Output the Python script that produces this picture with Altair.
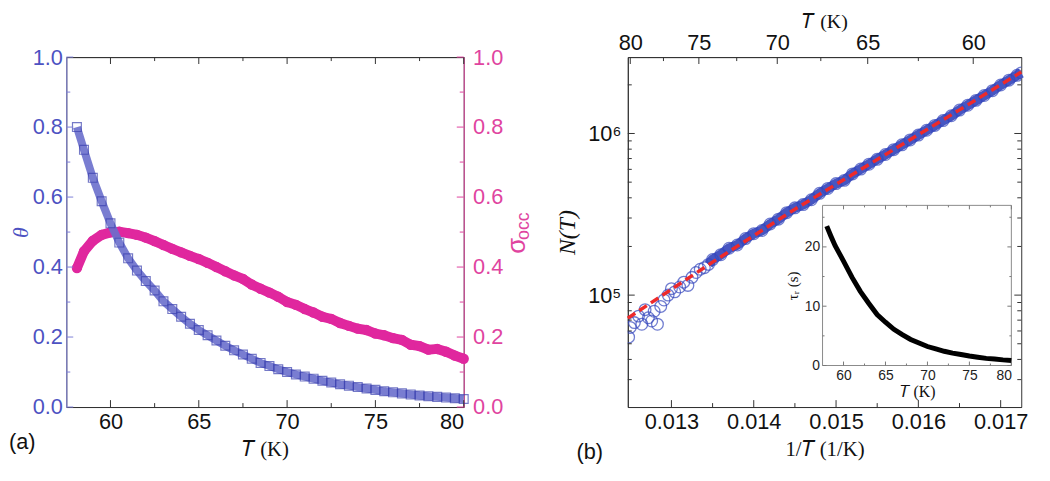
import altair as alt
import pandas as pd

# ---------------- Panel (a) data ----------------
T_a = [58.1, 58.5, 59.0, 59.5, 60.0, 60.5, 61.0, 61.5, 62.0, 62.5, 63.0, 63.5, 64.0, 64.5,
       65.0, 65.5, 66.0, 66.5, 67.0, 67.5, 68.0, 68.5, 69.0, 69.5, 70.0, 70.5, 71.0, 71.5,
       72.0, 72.5, 73.0, 73.5, 74.0, 74.5, 75.0, 75.5, 76.0, 76.5, 77.0, 77.5, 78.0, 78.5,
       79.0, 79.5, 80.0]
theta = [0.800, 0.735, 0.655, 0.588, 0.525, 0.470, 0.425, 0.390, 0.360, 0.333, 0.302, 0.280,
         0.258, 0.238, 0.220, 0.205, 0.190, 0.175, 0.162, 0.150, 0.138, 0.126, 0.117, 0.108,
         0.100, 0.093, 0.087, 0.081, 0.075, 0.070, 0.065, 0.061, 0.057, 0.053, 0.049, 0.045,
         0.042, 0.039, 0.036, 0.033, 0.031, 0.029, 0.027, 0.025, 0.023]
sigma_occ = [0.397, 0.445, 0.475, 0.492, 0.499, 0.501, 0.497, 0.492, 0.484, 0.474, 0.463, 0.452,
             0.442, 0.432, 0.423, 0.412, 0.400, 0.388, 0.376, 0.366, 0.350, 0.338, 0.327, 0.315,
             0.300, 0.292, 0.280, 0.270, 0.258, 0.252, 0.240, 0.232, 0.224, 0.220, 0.210, 0.205,
             0.197, 0.192, 0.178, 0.174, 0.164, 0.166, 0.158, 0.147, 0.138]

# ---------------- Panel (b) data ----------------
invT_b = [0.01248, 0.01250, 0.01255, 0.01260, 0.01264, 0.01268, 0.01272, 0.01276, 0.01279,
          0.01283, 0.01287, 0.01291, 0.01296, 0.01300, 0.01304, 0.01310, 0.01315, 0.01320,
          0.01325, 0.01330, 0.01335, 0.01340, 0.01345,
          0.0135, 0.0136, 0.0137, 0.0138, 0.0139, 0.0140, 0.0141, 0.0142, 0.0143, 0.0144,
          0.0145, 0.0146, 0.0147, 0.0148, 0.0149, 0.0150, 0.0151, 0.0152, 0.0153, 0.0154,
          0.0155, 0.0156, 0.0157, 0.0158, 0.0159, 0.0160, 0.0161, 0.0162, 0.0163, 0.0164,
          0.0165, 0.0166, 0.0167, 0.0168, 0.0169, 0.0170, 0.0171, 0.0172, 0.01725]
log10_N_b = [4.74, 4.80, 4.83, 4.87, 4.82, 4.91, 4.86, 4.84, 4.90,
             4.82, 4.93, 4.97, 5.00, 5.04, 5.02, 5.05, 5.08, 5.06,
             5.11, 5.14, 5.16, 5.17, 5.19,
             5.22, 5.25, 5.29, 5.31, 5.35, 5.38, 5.40, 5.44, 5.47, 5.51,
             5.54, 5.56, 5.59, 5.63, 5.66, 5.69, 5.71, 5.75, 5.78, 5.81,
             5.84, 5.87, 5.90, 5.93, 5.96, 5.99, 6.02, 6.05, 6.08, 6.11,
             6.145, 6.175, 6.205, 6.235, 6.265, 6.30, 6.33, 6.36, 6.375]
fit_invT = [0.01247, 0.0135, 0.0145, 0.0155, 0.0165, 0.01725]
fit_N = [7.2e4, 1.6e5, 3.4e5, 6.9e5, 1.4e6, 2.4e6]

# inset
T_in = [58.0, 58.5, 59.0, 59.5, 60.0, 61.0, 62.0, 63.0, 64.0, 65.0, 66.0, 67.0, 68.0, 69.0,
        70.0, 71.0, 72.0, 73.0, 74.0, 75.0, 76.0, 77.0, 78.0, 79.0, 80.0]
tau_r = [23.5, 21.8, 20.2, 18.9, 17.6, 14.9, 12.5, 10.5, 8.6, 7.3, 6.1, 5.2, 4.4, 3.8,
         3.2, 2.8, 2.4, 2.1, 1.85, 1.6, 1.4, 1.2, 1.1, 0.95, 0.85]

# ticks
a_x_major = [60, 65, 70, 75, 80]
a_x_minor = [62.5, 67.5, 72.5, 77.5]
a_y_major = [0.0, 0.2, 0.4, 0.6, 0.8, 1.0]
a_y_minor = [0.1, 0.3, 0.5, 0.7, 0.9]
b_x_major = [0.013, 0.014, 0.015, 0.016, 0.017]
b_x_minor = [0.0135, 0.0145, 0.0155, 0.0165]
b_top_major_T = [80, 75, 70, 65, 60]
b_top_minor_T = [77.5, 72.5, 67.5, 62.5]
b_y_major = [1e5, 1e6]
b_y_minor = [3e4, 4e4, 5e4, 6e4, 7e4, 8e4, 9e4, 2e5, 3e5, 4e5, 5e5, 6e5, 7e5, 8e5, 9e5, 2e6]
in_x_major = [60, 65, 70, 75, 80]
in_x_minor = [62.5, 67.5, 72.5, 77.5]
in_y_major = [0, 10, 20]
in_y_minor = [5, 15, 25]

SANS = "Liberation Sans"
SERIF = "Liberation Serif"
BLUE_LBL = "#4d52c2"
BLUE_DOM = "#7d80d8"
BLUE_MK = "#3c42b0"
BLUE_BAND = "#6a6fcc"
MAG = "#e0279e"
MAG_LBL = "#e0449f"
DARK = "#333333"


def vticks(values, scale, y0, y1, color=DARK):
    return alt.Chart(pd.DataFrame({"v": values})).mark_rule(color=color, strokeWidth=1).encode(
        x=alt.X("v:Q", scale=scale, axis=None), y=alt.value(y0), y2=alt.value(y1))


def hticks(values, scale, x0, x1, color=DARK):
    return alt.Chart(pd.DataFrame({"v": values})).mark_rule(color=color, strokeWidth=1).encode(
        y=alt.Y("v:Q", scale=scale, axis=None), x=alt.value(x0), x2=alt.value(x1))


def label(text, x, y, size=22, color="#111", font=SANS, angle=0, align="left", style="normal"):
    return alt.Chart(pd.DataFrame({"t": [text]})).mark_text(
        font=font, fontSize=size, color=color, angle=angle, align=align, baseline="middle",
        fontStyle=style).encode(x=alt.value(x), y=alt.value(y), text="t:N")


# ---------------- Panel (a) ----------------
W1, H1 = 402, 354
xa = alt.Scale(domain=[57.5, 80], nice=False, zero=False)
ya = alt.Scale(domain=[0, 1], nice=False, zero=False)
dfa = pd.DataFrame({"T": T_a, "theta": theta, "sigma": sigma_occ})

theta_band = alt.Chart(dfa).mark_line(color=BLUE_BAND, strokeWidth=8, opacity=0.9).encode(
    x=alt.X("T:Q", scale=xa, axis=None), y=alt.Y("theta:Q", scale=ya, axis=None))
theta_pts = alt.Chart(dfa).mark_point(shape="square", filled=False, size=80, strokeWidth=1.2,
                                      color=BLUE_MK).encode(
    x=alt.X("T:Q", scale=xa, axis=alt.Axis(
        orient="bottom", values=a_x_major, format="d", title="𝑇 (K)", ticks=False, tickSize=0,
        grid=False, domainColor=DARK, labelFont=SANS, labelFontSize=22, labelColor="#111",
        labelPadding=5, titleFont=SERIF, titleFontSize=21, titleFontWeight="normal",
        titleColor="#111", titlePadding=6)),
    y=alt.Y("theta:Q", scale=ya, axis=alt.Axis(
        orient="left", values=a_y_major, format=".1f", title="θ", ticks=False, tickSize=0,
        grid=False, domainColor=BLUE_DOM, labelFont=SANS, labelFontSize=22, labelColor=BLUE_LBL,
        labelPadding=4, titleFont=SERIF, titleFontSize=22, titleFontStyle="italic",
        titleFontWeight="normal", titleColor=BLUE_LBL, titlePadding=0)))

sigma_band = alt.Chart(dfa).mark_line(color=MAG, strokeWidth=10).encode(
    x=alt.X("T:Q", scale=xa, axis=None), y=alt.Y("sigma:Q", scale=ya, axis=None))
sigma_pts = alt.Chart(dfa).mark_circle(size=110, color=MAG, opacity=1).encode(
    x=alt.X("T:Q", scale=xa, axis=alt.Axis(
        orient="top", labels=False, ticks=False, tickSize=0, title=None, grid=False,
        domainColor=DARK)),
    y=alt.Y("sigma:Q", scale=ya, axis=alt.Axis(
        orient="right", values=a_y_major, format=".1f", title=None, ticks=False, tickSize=0,
        grid=False, domainColor=MAG_LBL, labelFont=SANS, labelFontSize=22, labelColor=MAG_LBL,
        labelPadding=9)))

panel_a = alt.layer(
    sigma_band, sigma_pts, theta_band, theta_pts,
    vticks(a_x_major, xa, H1, H1 - 7), vticks(a_x_minor, xa, H1, H1 - 4),
    vticks(a_x_major, xa, 0, 7), vticks(a_x_minor, xa, 0, 4),
    hticks(a_y_major, ya, 0, 7, BLUE_DOM), hticks(a_y_minor, ya, 0, 4, BLUE_DOM),
    hticks(a_y_major, ya, W1, W1 - 7, MAG_LBL), hticks(a_y_minor, ya, W1, W1 - 4, MAG_LBL),
    label("σ", 456, 191, size=26, color=MAG_LBL, angle=270, align="center"),
    label("occ", 463, 171, size=18, color=MAG_LBL, angle=270, align="center"),
    label("(a)", -58, 389, size=22),
).resolve_scale(y="independent").resolve_axis(x="independent", y="independent").properties(
    width=W1, height=H1)

# ---------------- Panel (b) ----------------
W2, H2 = 398, 354
xb = alt.Scale(domain=[0.01247, 0.01725], nice=False, zero=False)
yb = alt.Scale(type="log", domain=[2.03e4, 2.97e6], nice=False)
dfb = pd.DataFrame({"invT": invT_b, "logN": log10_N_b})
dfb["N"] = 10 ** dfb["logN"]
dff = pd.DataFrame({"invT": fit_invT, "N": fit_N})

band_b = alt.Chart(dfb).transform_filter("datum.invT >= 0.01345").mark_line(
    color="#4656c2", strokeWidth=10).encode(
    x=alt.X("invT:Q", scale=xb, axis=None), y=alt.Y("N:Q", scale=yb, axis=None))
circles = alt.Chart(dfb).mark_point(shape="circle", filled=False, size=140, strokeWidth=1.3,
                                    color="#3547bd", clip=True).encode(
    x=alt.X("invT:Q", scale=xb, axis=alt.Axis(
        orient="bottom", values=b_x_major, format=".3f", title="1/𝑇 (1/K)", ticks=False,
        tickSize=0, grid=False, domainColor=DARK, labelFont=SANS, labelFontSize=22,
        labelColor="#111", labelPadding=5, titleFont=SERIF, titleFontSize=21,
        titleFontWeight="normal", titleColor="#111", titlePadding=6)),
    y=alt.Y("N:Q", scale=yb, axis=alt.Axis(
        orient="left", values=b_y_major, labelExpr="datum.value > 500000 ? '10⁶' : '10⁵'",
        title="N(T)", ticks=False, tickSize=0, grid=False, domainColor=DARK, labelFont=SANS,
        labelFontSize=22, labelColor="#111", labelPadding=7, titleFont=SERIF,
        titleFontSize=24, titleFontStyle="italic", titleFontWeight="normal",
        titleColor="#111", titlePadding=8)))
fit = alt.Chart(dff).mark_line(color="#ee2a2a", strokeWidth=3.5, strokeDash=[9, 5]).encode(
    x=alt.X("invT:Q", scale=xb, axis=alt.Axis(
        orient="top", values=[1.0 / t for t in b_top_major_T],
        labelExpr="format(1/datum.value, '.0f')", title="𝑇 (K)", ticks=False, tickSize=0,
        grid=False, domainColor=DARK, labelFont=SANS, labelFontSize=22, labelColor="#111",
        labelPadding=3, titleFont=SERIF, titleFontSize=20, titleFontWeight="normal",
        titleColor="#111", titlePadding=0)),
    y=alt.Y("N:Q", scale=yb, axis=None))

# inset
IX0, IX1, IY0, IY1 = 197, 388, 150, 312
xin = alt.Scale(domain=[57.5, 80], range=[IX0, IX1], nice=False, zero=False)
yin = alt.Scale(domain=[0, 27], range=[IY1, IY0], nice=False, zero=False)
dfi = pd.DataFrame({"T": T_in, "tau": tau_r})
frame = alt.Chart(pd.DataFrame({"x1": [57.5], "x2": [80], "y1": [0], "y2": [27]})).mark_rect(
    fill="white", stroke="#8a8a8a", strokeWidth=1).encode(
    x=alt.X("x1:Q", scale=xin, axis=None), x2="x2:Q",
    y=alt.Y("y1:Q", scale=yin, axis=None), y2="y2:Q")
tau_line = alt.Chart(dfi).mark_line(color="black", strokeWidth=5).encode(
    x=alt.X("T:Q", scale=xin, axis=alt.Axis(
        orient="bottom", offset=-(H2 - IY1), values=in_x_major, format="d", title="𝑇 (K)",
        ticks=False, tickSize=0, domain=False, grid=False, labelFont=SANS, labelFontSize=14,
        labelColor="#222", labelPadding=3, titleFont=SERIF, titleFontSize=16,
        titleFontWeight="normal", titleColor="#111", titlePadding=1, zindex=2)),
    y=alt.Y("tau:Q", scale=yin, axis=alt.Axis(
        orient="left", offset=-IX0, values=in_y_major, format="d", title="τᵣ (s)",
        ticks=False, tickSize=0, domain=False, grid=False, labelFont=SANS, labelFontSize=14,
        labelColor="#222", labelPadding=3, titleFont=SERIF, titleFontSize=15,
        titleFontWeight="normal", titleColor="#111", titlePadding=4, zindex=2)))

panel_b = alt.layer(
    band_b, circles, fit,
    vticks(b_x_major, xb, H2, H2 - 7), vticks(b_x_minor, xb, H2, H2 - 4),
    vticks([1.0 / t for t in b_top_major_T], xb, 0, 7),
    vticks([1.0 / t for t in b_top_minor_T], xb, 0, 4),
    hticks(b_y_major, yb, 0, 7), hticks(b_y_minor, yb, 0, 4),
    hticks(b_y_major, yb, W2, W2 - 7), hticks(b_y_minor, yb, W2, W2 - 4),
    frame, tau_line,
    vticks(in_x_major, xin, IY1, IY1 - 4, "#777"), vticks(in_x_minor, xin, IY1, IY1 - 2, "#777"),
    vticks(in_x_major, xin, IY0, IY0 + 4, "#777"), vticks(in_x_minor, xin, IY0, IY0 + 2, "#777"),
    hticks(in_y_major, yin, IX0, IX0 + 4, "#777"), hticks(in_y_minor, yin, IX0, IX0 + 2, "#777"),
    hticks(in_y_major, yin, IX1, IX1 - 4, "#777"), hticks(in_y_minor, yin, IX1, IX1 - 2, "#777"),
    label("(b)", -52, 400, size=22),
).resolve_scale(x="independent", y="independent").resolve_axis(
    x="independent", y="independent").properties(width=W2, height=H2)

chart = alt.hconcat(panel_a, panel_b, spacing=166, bounds="flush").properties(
    padding={"left": 0, "top": 0, "right": 0, "bottom": 0}
).configure_view(stroke=DARK, strokeWidth=1).configure_axis(grid=False)

chart.save("out.html", embed_options={"renderer": "svg", "actions": False})
